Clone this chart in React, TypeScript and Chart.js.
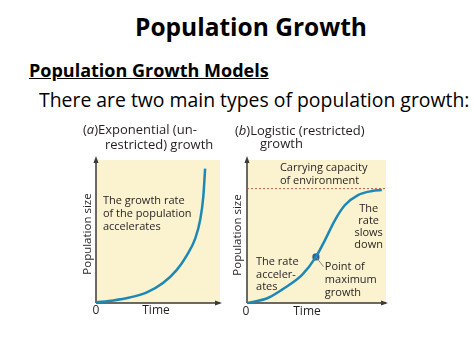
import React, { useEffect, useRef } from "react";
import { Chart, registerables } from "chart.js";
Chart.register(...registerables);

const W = 474;
const H = 355;

// ---- Data ----
// Panel (a): exponential (unrestricted) growth, time 0..10, population size 0..100
const expTime = [0, 1.4, 2.7, 4.1, 5.4, 6.5, 7.3, 8.0, 8.4, 8.65, 8.8];
const expSize = [0.5, 1.8, 3.8, 7.5, 14, 23, 33, 45, 58, 74, 94];

// Panel (b): logistic (restricted) growth
const logTime = [0, 1.5, 2.7, 3.96, 4.96, 5.61, 6.33, 7.05, 7.99, 9.0, 9.7];
const logSize = [0, 3.5, 10.5, 19.6, 32.2, 44, 58, 68.5, 75.5, 78.3, 79];

const carryingCapacity = 80;
const maxGrowthTime = 4.96;
const maxGrowthSize = 32.2;
const leaderEnd = [5.5, 25.5];

const axisMax = 10;
const sizeMax = 100;

// Text annotations (data coordinates)
const panelAInside = [
  { lines: ["The growth rate", "of the population", "accelerates"], t: 0.56, s: 71.3, align: "left", lh: 13 },
];
const panelBInside = [
  { lines: ["Carrying capacity", "of environment"], t: 2.37, s: 94.4, align: "left", lh: 13 },
  { lines: ["The", "rate", "slows", "down"], t: 8.75, s: 65.7, align: "center", lh: 12 },
  { lines: ["The rate", "acceler-", "ates"], t: 0.65, s: 28.7, align: "left", lh: 12.5 },
  { lines: ["Point of", "maximum", "growth"], t: 5.6, s: 25.2, align: "left", lh: 13 },
];

const FIG_FONT = "'Open Sans', 'Noto Sans', sans-serif";
const TEXT_COLOR = "#231f20";
const CURVE = "#1d87b6";
const PANEL_BG = "#fbf3cf";
const AXIS = "#3a3a3a";

type Seg = { text: string; italic?: boolean };
type Outer = { segs: Seg[]; x: number; y: number; align?: CanvasTextAlign; size: number; rotate?: boolean };

const panelAOuter: Outer[] = [
  { segs: [{ text: "(" }, { text: "a", italic: true }, { text: ")Exponential (un-" }], x: 83, y: 130, size: 13 },
  { segs: [{ text: "restricted) growth" }], x: 105, y: 145, size: 13 },
  { segs: [{ text: "0" }], x: 96, y: 311, size: 12, align: "center" },
  { segs: [{ text: "Time" }], x: 156, y: 311, size: 12, align: "center" },
  { segs: [{ text: "Population size" }], x: 88, y: 234, size: 11.5, align: "center", rotate: true },
];
const panelBOuter: Outer[] = [
  { segs: [{ text: "(" }, { text: "b", italic: true }, { text: ")Logistic (restricted)" }], x: 235, y: 131, size: 13 },
  { segs: [{ text: "growth" }], x: 260, y: 144, size: 13 },
  { segs: [{ text: "0" }], x: 246, y: 312, size: 12, align: "center" },
  { segs: [{ text: "Time" }], x: 307, y: 312, size: 12, align: "center" },
  { segs: [{ text: "Population size" }], x: 238, y: 235, size: 11.5, align: "center", rotate: true },
];

function drawSegs(ctx: CanvasRenderingContext2D, o: Outer) {
  ctx.save();
  ctx.fillStyle = TEXT_COLOR;
  ctx.textBaseline = "middle";
  const fontOf = (s: Seg) => `${s.italic ? "italic " : ""}${o.size}px ${FIG_FONT}`;
  let total = 0;
  for (const s of o.segs) {
    ctx.font = fontOf(s);
    total += ctx.measureText(s.text).width;
  }
  ctx.translate(o.x, o.y);
  if (o.rotate) ctx.rotate(-Math.PI / 2);
  let x = o.align === "center" ? -total / 2 : 0;
  ctx.textAlign = "left";
  for (const s of o.segs) {
    ctx.font = fontOf(s);
    ctx.fillText(s.text, x, 0);
    x += ctx.measureText(s.text).width;
  }
  ctx.restore();
}

const decorPlugin = {
  id: "panelDecor",
  beforeDatasetsDraw(chart: any, _args: any, opts: any) {
    const { ctx, chartArea: a } = chart;
    ctx.save();
    ctx.fillStyle = PANEL_BG;
    ctx.fillRect(a.left, a.top, a.right - a.left + (opts.bgExtra || 0), a.bottom - a.top);
    ctx.strokeStyle = AXIS;
    ctx.fillStyle = AXIS;
    ctx.lineWidth = 1.5;
    ctx.beginPath();
    ctx.moveTo(a.left, a.bottom);
    ctx.lineTo(a.left, a.top - 1);
    ctx.moveTo(a.left, a.bottom);
    ctx.lineTo(a.right, a.bottom);
    ctx.stroke();
    // arrowheads
    ctx.beginPath();
    ctx.moveTo(a.left, a.top - 4);
    ctx.lineTo(a.left - 2.5, a.top + 3);
    ctx.lineTo(a.left + 2.5, a.top + 3);
    ctx.closePath();
    ctx.fill();
    ctx.beginPath();
    ctx.moveTo(a.right + 2, a.bottom);
    ctx.lineTo(a.right - 5, a.bottom - 2.5);
    ctx.lineTo(a.right - 5, a.bottom + 2.5);
    ctx.closePath();
    ctx.fill();
    ctx.restore();
  },
  afterDatasetsDraw(chart: any, _args: any, opts: any) {
    const { ctx, scales } = chart;
    const xs = scales.x;
    const ys = scales.y;
    ctx.save();
    ctx.fillStyle = TEXT_COLOR;
    ctx.textBaseline = "middle";
    ctx.font = `11px ${FIG_FONT}`;
    for (const lab of opts.inside || []) {
      ctx.textAlign = lab.align;
      const x = xs.getPixelForValue(lab.t);
      const y0 = ys.getPixelForValue(lab.s);
      lab.lines.forEach((ln: string, i: number) => ctx.fillText(ln, x, y0 + i * lab.lh));
    }
    ctx.restore();
    for (const o of opts.outer || []) drawSegs(ctx, o);
  },
};

function baseOptions(padding: any, inside: any, outer: any, bgExtra = 0): any {
  return {
    responsive: false,
    animation: false,
    events: [],
    layout: { padding },
    plugins: {
      legend: { display: false },
      tooltip: { enabled: false },
      panelDecor: { inside, outer, bgExtra },
    },
    scales: {
      x: { type: "linear", min: 0, max: axisMax, display: false },
      y: { type: "linear", min: 0, max: sizeMax, display: false },
    },
  };
}

export default function App() {
  const refA = useRef<HTMLCanvasElement>(null);
  const refB = useRef<HTMLCanvasElement>(null);

  useEffect(() => {
    const chartA = new Chart(refA.current!, {
      type: "line",
      data: {
        datasets: [
          {
            label: "Exponential",
            data: expTime.map((t, i) => ({ x: t, y: expSize[i] })),
            borderColor: CURVE,
            borderWidth: 2.5,
            pointRadius: 0,
            cubicInterpolationMode: "monotone",
            fill: false,
          },
        ],
      },
      options: baseOptions({ left: 96, top: 160, right: W - 220, bottom: H - 303 }, panelAInside, panelAOuter),
      plugins: [decorPlugin],
    } as any);

    const chartB = new Chart(refB.current!, {
      type: "line",
      data: {
        datasets: [
          {
            label: "Carrying capacity",
            data: [
              { x: 0, y: carryingCapacity },
              { x: axisMax, y: carryingCapacity },
            ],
            borderColor: "#b0604a",
            borderWidth: 1,
            borderDash: [2, 2],
            pointRadius: 0,
          },
          {
            label: "Leader",
            data: [
              { x: maxGrowthTime, y: maxGrowthSize },
              { x: leaderEnd[0], y: leaderEnd[1] },
            ],
            borderColor: "#8a8a8a",
            borderWidth: 1,
            pointRadius: 0,
          },
          {
            label: "Logistic",
            data: logTime.map((t, i) => ({ x: t, y: logSize[i] })),
            borderColor: CURVE,
            borderWidth: 2.5,
            pointRadius: 0,
            cubicInterpolationMode: "monotone",
            fill: false,
          },
          {
            label: "Point of maximum growth",
            data: [{ x: maxGrowthTime, y: maxGrowthSize }],
            showLine: false,
            pointRadius: 3.5,
            pointStyle: "rectRounded",
            pointBackgroundColor: "#2a5f8f",
            pointBorderColor: "#2a5f8f",
          },
        ],
      },
      options: baseOptions({ left: 247, top: 160, right: W - 386, bottom: H - 303 }, panelBInside, panelBOuter),
      plugins: [decorPlugin],
    } as any);

    return () => {
      chartA.destroy();
      chartB.destroy();
    };
  }, []);

  const top: React.CSSProperties = {
    position: "absolute",
    whiteSpace: "nowrap",
    fontFamily: "'Open Sans', sans-serif",
    color: "#000",
  };

  return (
    <div style={{ position: "fixed", left: 0, top: 0, width: W, height: H, background: "#fff", overflow: "hidden" }}>
      <div style={{ ...top, left: 135, top: 15, fontSize: 24.5, lineHeight: "24.5px", fontWeight: 700 }}>Population Growth</div>
      <div style={{ ...top, left: 29, top: 61, fontSize: 18, lineHeight: "18px", fontWeight: 700, textDecoration: "underline" }}>
        Population Growth Models
      </div>
      <div style={{ ...top, left: 39, top: 90, fontSize: 19.4, lineHeight: "19.4px" }}>There are two main types of population growth:</div>
      <canvas ref={refA} width={W} height={H} style={{ position: "absolute", left: 0, top: 0 }} />
      <canvas ref={refB} width={W} height={H} style={{ position: "absolute", left: 0, top: 0 }} />
    </div>
  );
}
